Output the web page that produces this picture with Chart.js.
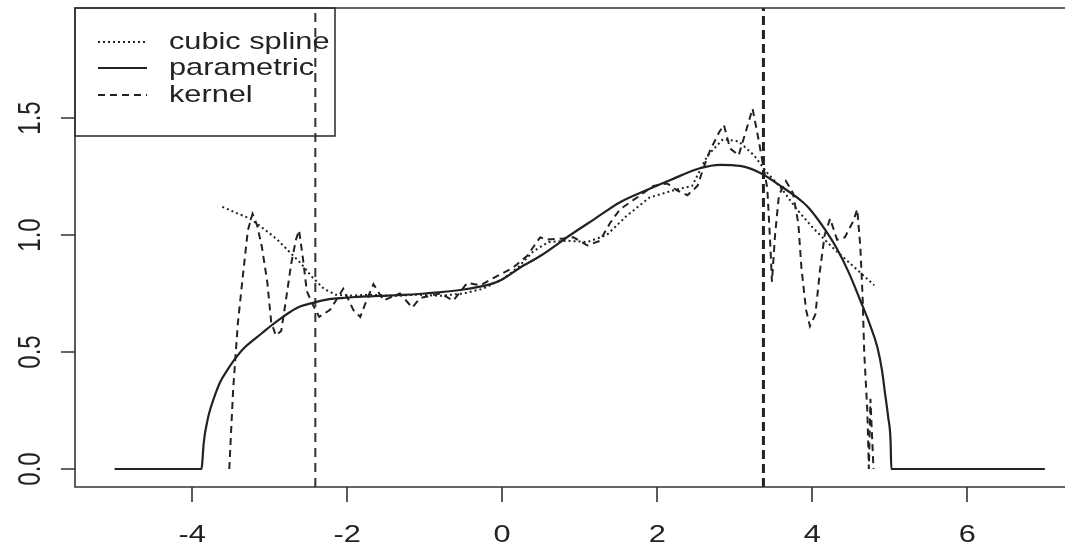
<!DOCTYPE html>
<html>
<head>
<meta charset="utf-8">
<script src="https://cdn.jsdelivr.net/npm/chart.js@4.4.0/dist/chart.umd.min.js"></script>
<style>
html,body{margin:0;padding:0;background:#fff;overflow:hidden;}
canvas{display:block;}
</style>
</head>
<body>
<canvas id="c" width="1065" height="555"></canvas>
<script>
// ---- data ----
const xTicks = [-4, -2, 0, 2, 4, 6];
const xTickLabels = ['-4', '-2', '0', '2', '4', '6'];
const yTicks = [0, 0.5, 1, 1.5];
const yTickLabels = ['0.0', '0.5', '1.0', '1.5'];

const seriesNames = ['cubic spline', 'parametric', 'kernel'];

const paramX = [-5, -3.88, -3.87, -3.85, -3.80, -3.77, -3.70, -3.64, -3.55, -3.47, -3.35, -3.25, -3.10, -2.99, -2.85, -2.74, -2.60, -2.44, -2.25, -2.09, -1.90, -1.70, -1.40, -1.00, -0.54, -0.15, 0.00, 0.23, 0.49, 0.88, 1.20, 1.52, 1.85, 2.17, 2.55, 2.81, 3.07, 3.33, 3.59, 3.88, 3.97, 4.15, 4.32, 4.47, 4.62, 4.74, 4.84, 4.90, 4.94, 4.98, 5.01, 5.02, 7];
const paramY = [0, 0, 0.02, 0.11, 0.21, 0.25, 0.32, 0.37, 0.42, 0.46, 0.51, 0.54, 0.58, 0.61, 0.645, 0.67, 0.695, 0.71, 0.725, 0.73, 0.735, 0.738, 0.742, 0.75, 0.765, 0.79, 0.81, 0.86, 0.91, 1.00, 1.07, 1.14, 1.19, 1.235, 1.285, 1.30, 1.295, 1.265, 1.21, 1.14, 1.11, 1.03, 0.94, 0.84, 0.72, 0.62, 0.52, 0.42, 0.32, 0.22, 0.12, 0, 0];

const splineX = [-3.61, -3.40, -3.25, -3.05, -2.90, -2.75, -2.60, -2.45, -2.30, -2.15, -2.00, -1.70, -1.40, -1.10, -0.80, -0.50, -0.25, 0.00, 0.20, 0.40, 0.60, 0.85, 1.10, 1.35, 1.60, 1.90, 2.20, 2.45, 2.65, 2.85, 3.05, 3.25, 3.42, 3.60, 3.80, 4.01, 4.25, 4.45, 4.65, 4.80];
const splineY = [1.12, 1.09, 1.07, 1.02, 0.98, 0.93, 0.88, 0.82, 0.77, 0.745, 0.74, 0.745, 0.74, 0.745, 0.74, 0.75, 0.77, 0.81, 0.86, 0.93, 0.97, 0.975, 0.97, 1.00, 1.08, 1.16, 1.19, 1.21, 1.34, 1.41, 1.40, 1.34, 1.265, 1.20, 1.11, 1.03, 0.95, 0.89, 0.83, 0.785];

const kernelX = [-3.52, -3.47, -3.41, -3.34, -3.28, -3.22, -3.16, -3.10, -3.03, -2.98, -2.92, -2.85, -2.79, -2.72, -2.66, -2.62, -2.57, -2.52, -2.44, -2.36, -2.22, -2.05, -1.92, -1.83, -1.75, -1.66, -1.53, -1.32, -1.16, -1.06, -0.80, -0.63, -0.45, -0.28, -0.12, 0.14, 0.32, 0.49, 0.58, 0.79, 0.92, 1.10, 1.26, 1.39, 1.52, 1.74, 1.95, 2.13, 2.26, 2.39, 2.52, 2.59, 2.68, 2.80, 2.86, 2.94, 3.05, 3.15, 3.23, 3.30, 3.36, 3.42, 3.46, 3.48, 3.52, 3.57, 3.66, 3.75, 3.82, 3.86, 3.92, 3.97, 4.04, 4.10, 4.16, 4.23, 4.32, 4.42, 4.53, 4.58, 4.62, 4.65, 4.67, 4.71, 4.73, 4.75, 4.79];
const kernelY = [0.00, 0.34, 0.62, 0.84, 1.02, 1.09, 1.04, 0.95, 0.80, 0.63, 0.57, 0.59, 0.72, 0.88, 0.98, 1.02, 0.90, 0.76, 0.70, 0.65, 0.68, 0.77, 0.68, 0.65, 0.72, 0.79, 0.72, 0.75, 0.69, 0.73, 0.75, 0.72, 0.795, 0.785, 0.815, 0.86, 0.91, 0.99, 0.98, 0.985, 0.99, 0.955, 0.975, 1.05, 1.11, 1.16, 1.21, 1.22, 1.19, 1.17, 1.21, 1.28, 1.36, 1.44, 1.47, 1.37, 1.34, 1.45, 1.54, 1.42, 1.31, 1.20, 0.95, 0.80, 1.00, 1.17, 1.23, 1.18, 1.05, 0.86, 0.68, 0.61, 0.66, 0.85, 1.00, 1.07, 0.98, 0.99, 1.06, 1.11, 0.95, 0.73, 0.50, 0.25, 0.00, 0.30, 0.00];

const vlineX = [-2.41, 3.37];

// ---- helpers ----
const INK = '#222222';
const SX = 1.28;
const FONT = "24px 'Liberation Sans', Arial, sans-serif";
const zip = (xs, ys) => xs.map((x, i) => ({x: x, y: ys[i]}));

const X_MIN = -5.51, X_MAX = 7.26, Y_MIN = -0.077, Y_MAX = 1.97;

function stext(ctx, text, x, y, align, rot) {
  ctx.save();
  ctx.translate(x, y);
  ctx.scale(SX, 1);
  if (rot) ctx.rotate(-Math.PI / 2);
  ctx.textAlign = align;
  ctx.textBaseline = 'middle';
  ctx.fillText(text, 0, 0);
  ctx.restore();
}

const frame = {
  id: 'frame',
  afterDraw(chart) {
    const ctx = chart.ctx, a = chart.chartArea;
    const xs = chart.scales.x, ys = chart.scales.y;
    ctx.save();
    ctx.strokeStyle = '#333';
    ctx.lineWidth = 1.6;
    ctx.setLineDash([]);
    ctx.beginPath();
    ctx.moveTo(1070, a.top); ctx.lineTo(a.left, a.top);
    ctx.lineTo(a.left, a.bottom); ctx.lineTo(1070, a.bottom);
    ctx.stroke();
    // ticks
    ctx.beginPath();
    xTicks.forEach(v => { const p = Math.round(xs.getPixelForValue(v)); ctx.moveTo(p, a.bottom); ctx.lineTo(p, a.bottom + 15); });
    yTicks.forEach(v => { const p = Math.round(ys.getPixelForValue(v)); ctx.moveTo(a.left, p); ctx.lineTo(a.left - 14, p); });
    ctx.stroke();
    ctx.fillStyle = INK;
    ctx.font = FONT;
    xTicks.forEach((v, i) => stext(ctx, xTickLabels[i], xs.getPixelForValue(v), a.bottom + 48, 'center', false));
    yTicks.forEach((v, i) => stext(ctx, yTickLabels[i], a.left - 43, ys.getPixelForValue(v), 'center', true));
    // legend
    ctx.lineWidth = 1.6;
    ctx.strokeStyle = '#333';
    ctx.strokeRect(a.left, a.top, 260, 128);
    const rows = [42, 68, 95];
    const dashes = [[2, 3], [], [7, 5]];
    rows.forEach((ry, i) => {
      ctx.save();
      ctx.strokeStyle = INK;
      ctx.lineWidth = 2;
      ctx.setLineDash(dashes[i]);
      ctx.beginPath(); ctx.moveTo(98, ry); ctx.lineTo(147, ry); ctx.stroke();
      ctx.restore();
      stext(ctx, seriesNames[i], 169, ry, 'left', false);
    });
    ctx.restore();
  }
};

const lineDs = (label, data, dash, width, color, mono) => ({
  label: label, data: data, showLine: true, borderColor: color || INK, borderWidth: width,
  borderDash: dash, pointRadius: 0, fill: false, tension: 0,
  cubicInterpolationMode: mono ? 'monotone' : 'default'
});

const datasets = [
  lineDs(seriesNames[1], zip(paramX, paramY), [], 2.2, INK, true),
  lineDs(seriesNames[0], zip(splineX, splineY), [2, 3], 2),
  lineDs(seriesNames[2], zip(kernelX, kernelY), [7, 5], 2),
  lineDs('v1', [{x: vlineX[0], y: Y_MIN}, {x: vlineX[0], y: Y_MAX}], [9, 6], 2, '#333'),
  lineDs('v2', [{x: vlineX[1], y: Y_MIN}, {x: vlineX[1], y: Y_MAX}], [9, 5], 3, '#222')
];

new Chart(document.getElementById('c'), {
  type: 'scatter',
  data: { datasets: datasets },
  options: {
    responsive: false,
    animation: false,
    devicePixelRatio: 1,
    layout: { padding: { top: 8, left: 0, right: 0, bottom: 0 } },
    plugins: { legend: { display: false }, tooltip: { enabled: false } },
    scales: {
      x: {
        type: 'linear', min: X_MIN, max: X_MAX,
        afterBuildTicks(s) { s.ticks = xTicks.map(v => ({value: v})); },
        afterFit(s) { s.height = 68; },
        grid: { display: false }, border: { display: false }, ticks: { display: false }
      },
      y: {
        type: 'linear', min: Y_MIN, max: Y_MAX,
        afterBuildTicks(s) { s.ticks = yTicks.map(v => ({value: v})); },
        afterFit(s) { s.width = 75; },
        grid: { display: false }, border: { display: false }, ticks: { display: false }
      }
    }
  },
  plugins: [frame]
});
</script>
</body>
</html>
